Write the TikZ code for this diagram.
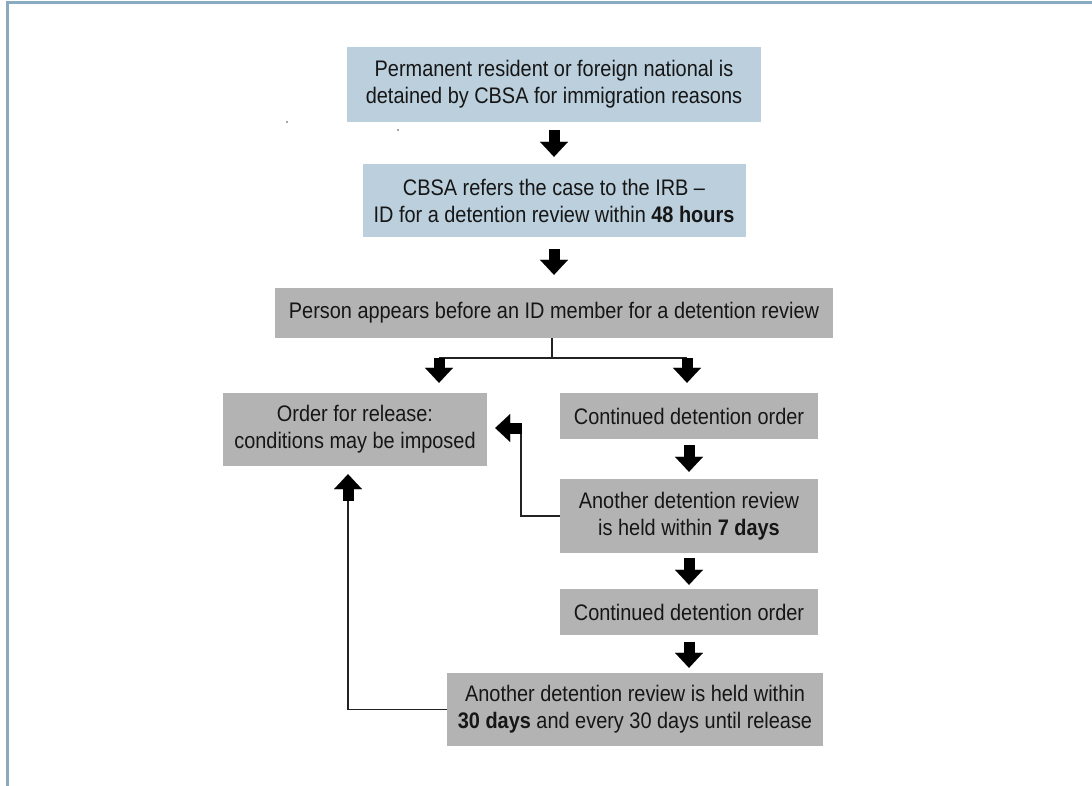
\documentclass[tikz,border=0pt]{standalone}
\usepackage{fontspec}
\setmainfont{Liberation Sans}[FakeStretch=0.885]
\usetikzlibrary{arrows.meta,calc}
\definecolor{boxblue}{HTML}{BBCFDD}
\definecolor{boxgray}{HTML}{B3B3B3}
\definecolor{frameblue}{HTML}{8AAAC2}
\definecolor{txt}{HTML}{161616}
\definecolor{lnc}{HTML}{222222}
\tikzset{
  box/.style={inner sep=0pt, align=center, text=txt,
    font=\fontsize{22.5}{27}\selectfont},
  bluebox/.style={box, fill=boxblue},
  graybox/.style={box, fill=boxgray},
  blk/.style={draw=black, line width=11pt,
    -{Triangle[width=28pt,length=15pt,line width=0.1pt]}},
  conn/.style={draw=lnc, line width=1.3pt},
}
\begin{document}
\begin{tikzpicture}[x=1pt,y=-1pt]
\useasboundingbox (0,0) rectangle (1092,786);
% frame
\draw[frameblue, line width=3pt] (7,786) -- (7,3) -- (1092,3);
% stray dots
\fill[black!70] (287,122) circle (0.8);
\fill[black!70] (398,130) circle (0.8);
% boxes
\node[bluebox, minimum width=414pt, minimum height=75pt] (b1) at (554,84.5)
  {Permanent resident or foreign national is\\detained by CBSA for immigration reasons};
\node[bluebox, minimum width=383pt, minimum height=73pt] (b2) at (554,200.5)
  {CBSA refers the case to the IRB --\\ID for a detention review within \textbf{48 hours}};
\node[graybox, minimum width=558pt, minimum height=50pt] (b3) at (554,313)
  {Person appears before an ID member for a detention review};
\node[graybox, minimum width=264pt, minimum height=73pt] (rel) at (355,429.5)
  {Order for release:\\conditions may be imposed};
\node[graybox, minimum width=258pt, minimum height=46pt] (c1) at (689,416)
  {Continued detention order};
\node[graybox, minimum width=258pt, minimum height=74pt] (r7) at (689,516)
  {Another detention review\\is held within \textbf{7 days}};
\node[graybox, minimum width=258pt, minimum height=46pt] (c2) at (689,612)
  {Continued detention order};
\node[graybox, minimum width=376pt, minimum height=73pt] (r30) at (635,709.5)
  {Another detention review is held within\\\textbf{30 days} and every 30 days until release};
% main flow
\draw[blk, shorten <=8pt, shorten >=7pt] (b1.south) -- (b1.south |- b2.north);
\draw[blk, shorten <=12pt, shorten >=13pt] (b2.south) -- (b2.south |- b3.north);
% branch
\coordinate (brm) at (552,358);
\coordinate (brl) at (439,358);
\coordinate (brr) at (687,358);
\draw[conn] (b3.south -| brm) -- (brm);
\draw[conn] (brl) -- (brr);
\draw[blk, shorten >=10pt] (brl) -- (brl |- rel.north);
\draw[blk, shorten >=10pt] (brr) -- (brr |- c1.north);
% right column
\draw[blk, shorten <=6pt, shorten >=7pt] (c1.south) -- (r7.north);
\draw[blk, shorten <=5pt, shorten >=4pt] (r7.south) -- (c2.north);
\draw[blk, shorten <=7pt, shorten >=5pt] (c2.south) -- (c2.south |- r30.north);
% return to release after 7-day review
\coordinate (lk) at (521,428);
\draw[conn] (r7.west) -| (lk);
\draw[blk, shorten >=8pt] ([xshift=1pt]lk) -- (lk -| rel.east);
% return to release after 30-day review
\coordinate (uk) at (348,500);
\draw[conn] (r30.west) -| (uk);
\draw[blk, shorten >=8pt] ([yshift=-0.5pt]uk) -- (uk |- rel.south);
\end{tikzpicture}
\end{document}
